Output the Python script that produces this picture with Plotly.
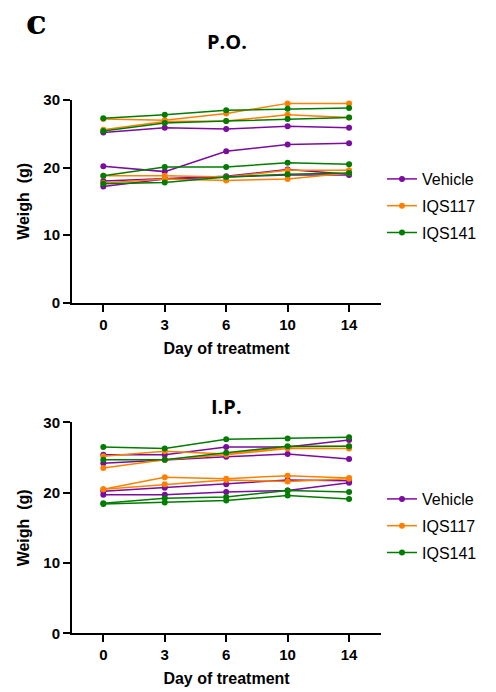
import plotly.graph_objects as go

days = ["0", "3", "6", "10", "14"]
y_ticks = [0, 10, 20, 30]
groups = ["Vehicle", "IQS117", "IQS141"]
colors = ["#7b0c9e", "#ff8000", "#007d00"]

# P.O. panel (weights in g, one list per animal)
po_vehicle = [
    [25.2, 25.9, 25.7, 26.1, 25.9],
    [20.2, 19.4, 22.4, 23.4, 23.6],
    [18.0, 18.4, 18.7, 19.7, 19.0],
    [17.2, 18.3, 18.6, 18.9, 18.9],
]
po_iqs117 = [
    [27.2, 27.0, 28.0, 29.5, 29.5],
    [25.6, 26.8, 26.9, 27.8, 27.4],
    [18.8, 18.8, 18.6, 19.6, 19.6],
    [17.7, 18.3, 18.1, 18.3, 19.2],
]
po_iqs141 = [
    [27.3, 27.8, 28.5, 28.7, 28.8],
    [25.4, 26.6, 26.9, 27.2, 27.4],
    [18.8, 20.1, 20.1, 20.7, 20.5],
    [17.6, 17.8, 18.6, 19.0, 19.2],
]

# I.P. panel
ip_vehicle = [
    [25.4, 25.4, 26.5, 26.5, 27.5],
    [24.2, 24.7, 25.1, 25.5, 24.8],
    [20.2, 20.7, 21.2, 21.8, 21.7],
    [19.7, 19.7, 20.1, 20.3, 21.4],
]
ip_iqs117 = [
    [25.2, 25.9, 25.5, 26.5, 26.6],
    [23.5, 24.7, 25.4, 26.3, 26.3],
    [20.5, 22.2, 22.0, 22.4, 22.1],
    [20.5, 21.2, 21.8, 21.6, 22.0],
]
ip_iqs141 = [
    [26.5, 26.3, 27.6, 27.7, 27.9],
    [24.7, 24.7, 25.7, 26.6, 26.6],
    [18.5, 19.2, 19.4, 20.3, 20.1],
    [18.4, 18.6, 18.9, 19.6, 19.1],
]

panels = [
    ("x", "y", "legend", [po_vehicle, po_iqs117, po_iqs141]),
    ("x2", "y2", "legend2", [ip_vehicle, ip_iqs117, ip_iqs141]),
]

fig = go.Figure()
for xa, ya, lg, data in panels:
    for gname, col, series in zip(groups, colors, data):
        for i, vals in enumerate(series):
            fig.add_trace(go.Scatter(
                x=days, y=vals, xaxis=xa, yaxis=ya, mode="lines+markers",
                name=gname, legend=lg, legendgroup=lg + gname,
                showlegend=(i == 0),
                line=dict(color=col, width=1.5),
                marker=dict(color=col, size=6),
            ))

W, H = 496, 692
xdom = [72 / W, 381 / W]
top_dom = [(H - 302.7) / H, (H - 100) / H]
bot_dom = [(H - 633.3) / H, (H - 422.4) / H]

tickfont = dict(family="Arial", size=15, color="black", weight="bold")
titlefont = dict(family="Arial", size=16, color="black", weight="bold")

def xaxis(anchor):
    return dict(domain=xdom, anchor=anchor, type="category", range=[-0.51, 4.52],
                showline=True, linecolor="black", linewidth=2, ticks="outside",
                ticklen=7, tickwidth=2, tickcolor="black", showgrid=False,
                zeroline=False, tickfont=tickfont,
                title=dict(text="Day of treatment", font=titlefont, standoff=11))

def yaxis(anchor, dom):
    return dict(domain=dom, anchor=anchor, range=[0, 30], tickvals=y_ticks,
                showline=True, linecolor="black", linewidth=2, ticks="outside",
                ticklen=7, tickwidth=2, tickcolor="black", showgrid=False,
                zeroline=False, tickfont=tickfont,
                title=dict(text="Weigh\u00a0 (g)", font=titlefont, standoff=10))

legend_common = dict(font=dict(family="Arial", size=16, color="black"),
                     bgcolor="rgba(0,0,0,0)", tracegroupgap=3,
                     itemwidth=30, xanchor="left", yanchor="top")

fig.update_layout(
    width=W, height=H, margin=dict(l=0, r=0, t=0, b=0, autoexpand=False),
    paper_bgcolor="white", plot_bgcolor="white",
    xaxis=xaxis("y"), yaxis=yaxis("x", top_dom),
    xaxis2=xaxis("y2"), yaxis2=yaxis("x2", bot_dom),
    legend=dict(x=382 / W, y=(H - 162) / H, **legend_common),
    legend2=dict(x=382 / W, y=(H - 482) / H, **legend_common),
    annotations=[
        dict(text="P.O.", x=226.5 / W, y=(H - 41) / H, xref="paper", yref="paper",
             xanchor="center", yanchor="middle", showarrow=False,
             font=dict(family="Open Sans", size=20, color="black", weight="bold")),
        dict(text="I.P.", x=226.5 / W, y=(H - 406) / H, xref="paper", yref="paper",
             xanchor="center", yanchor="middle", showarrow=False,
             font=dict(family="Open Sans", size=20, color="black", weight="bold")),
        dict(text="c", x=36 / W, y=1, xref="paper", yref="paper",
             xanchor="center", yanchor="top", showarrow=False,
             font=dict(family="DejaVu Serif", size=34, color="black", weight="bold")),
    ],
)

fig.write_html("out.html", config={"displayModeBar": False},
               post_script="document.body.style.margin='0';document.body.style.overflow='hidden';")
